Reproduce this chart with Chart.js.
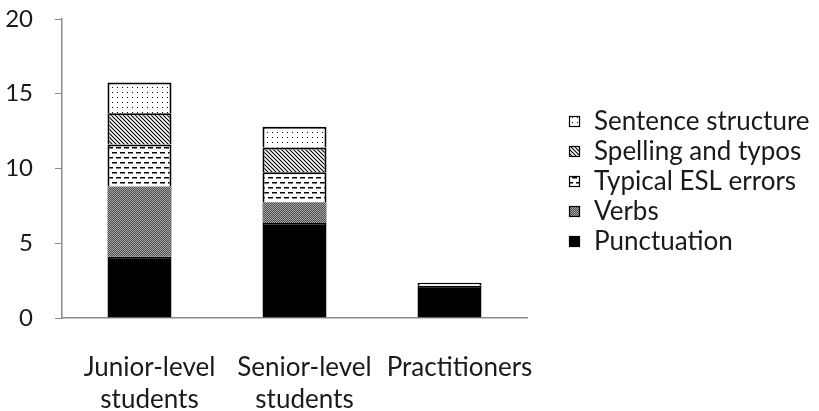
<!DOCTYPE html>
<html>
<head>
<meta charset="utf-8">
<script src="https://cdn.jsdelivr.net/npm/chart.js@4/dist/chart.umd.min.js"></script>
<style>
  html, body { margin: 0; padding: 0; background: #fff; }
  #wrap { width: 819px; height: 411px; }
</style>
</head>
<body>
<div id="wrap"><canvas id="chart" width="819" height="411"></canvas></div>
<script>
const categories = [["Junior-level", "students"], ["Senior-level", "students"], "Practitioners"];
const punctuation = [4.1, 6.35, 2.15];
const verbs = [4.7, 1.4, 0];
const eslErrors = [2.8, 2.0, 0.2];
const spelling = [2.1, 1.65, 0];
const sentence = [2.05, 1.4, 0];
const yTicks = [0, 5, 10, 15, 20];

const FONT = "Lato, 'Liberation Sans', sans-serif";
const TEXT_COLOR = "#1a1a1a";
const AXIS_COLOR = "#8c8c8c";

function makePattern(w, h, draw) {
  const c = document.createElement("canvas");
  c.width = w;
  c.height = h;
  const g = c.getContext("2d");
  g.fillStyle = "#fff";
  g.fillRect(0, 0, w, h);
  draw(g);
  return c.getContext("2d").createPattern(c, "repeat");
}

const dotted = makePattern(5, 5, (g) => {
  g.fillStyle = "#000";
  g.fillRect(2, 2, 1, 1);
});

const hatched = makePattern(4, 4, (g) => {
  g.strokeStyle = "#000";
  g.lineWidth = 1.1;
  g.beginPath();
  g.moveTo(-1, -1); g.lineTo(5, 5);
  g.moveTo(-1, 3); g.lineTo(1, 5);
  g.moveTo(3, -1); g.lineTo(5, 1);
  g.stroke();
});

const dashed = makePattern(8, 10, (g) => {
  g.fillStyle = "#000";
  g.fillRect(0, 2, 5, 1.5);
  g.fillRect(4, 7, 5, 1.5);
  g.fillRect(0, 7, 1, 1.5);
});

const speckled = makePattern(2, 2, (g) => {
  g.fillStyle = "#4d4d4d";
  g.fillRect(0, 0, 2, 2);
  g.fillStyle = "#a6a6a6";
  g.fillRect(0, 0, 1, 1);
  g.fillRect(1, 1, 1, 1);
});

function series(label, data, fill, border) {
  return {
    label: label,
    data: data,
    backgroundColor: fill,
    borderColor: "#000",
    borderWidth: border,
    categoryPercentage: 1,
    barPercentage: 0.413,
  };
}

// legend drawn by hand so it can sit where the original has it
const sideLegend = {
  id: "sideLegend",
  afterDraw(chart) {
    const ctx = chart.ctx;
    const sets = chart.data.datasets.slice().reverse();
    ctx.save();
    ctx.font = "26px " + FONT;
    ctx.textBaseline = "middle";
    sets.forEach((ds, i) => {
      const y = 121 + i * 30;
      ctx.fillStyle = ds.backgroundColor;
      ctx.fillRect(569, y - 5, 11, 11);
      ctx.strokeStyle = "#000";
      ctx.lineWidth = 1.2;
      ctx.strokeRect(569.5, y - 4.5, 10, 10);
      ctx.fillStyle = TEXT_COLOR;
      ctx.fillText(ds.label, 594, y + 1);
    });
    ctx.restore();
  },
};

new Chart(document.getElementById("chart"), {
  type: "bar",
  data: {
    labels: categories,
    datasets: [
      series("Punctuation", punctuation, "#000", 1.5),
      series("Verbs", verbs, speckled, 0),
      series("Typical ESL errors", eslErrors, dashed, 2),
      series("Spelling and typos", spelling, hatched, 2),
      series("Sentence structure", sentence, dotted, 2),
    ],
  },
  options: {
    responsive: false,
    animation: false,
    layout: { padding: { top: 19, right: 292, left: 4, bottom: 0 } },
    plugins: {
      legend: { display: false },
      tooltip: { enabled: false },
    },
    scales: {
      x: {
        stacked: true,
        grid: { display: false },
        border: { display: true, color: AXIS_COLOR, width: 1.5 },
        ticks: {
          color: TEXT_COLOR,
          padding: 25,
          labelOffset: 10,
          font: { family: FONT, size: 26, lineHeight: 1.25 },
          maxRotation: 0,
        },
        afterFit(scale) {
          scale.height = 93;
        },
      },
      y: {
        stacked: true,
        min: 0,
        max: 20,
        afterBuildTicks(scale) {
          scale.ticks = yTicks.map((v) => ({ value: v }));
        },
        grid: {
          drawOnChartArea: false,
          drawTicks: true,
          tickLength: 7,
          color: AXIS_COLOR,
        },
        border: { display: true, color: AXIS_COLOR, width: 1.5 },
        ticks: {
          color: TEXT_COLOR,
          padding: 22,
          font: { family: FONT, size: 24 },
        },
        afterFit(scale) {
          scale.width = 58;
          scale.paddingTop = 0;
          scale.paddingBottom = 0;
        },
      },
    },
  },
  plugins: [sideLegend],
});
</script>
</body>
</html>
